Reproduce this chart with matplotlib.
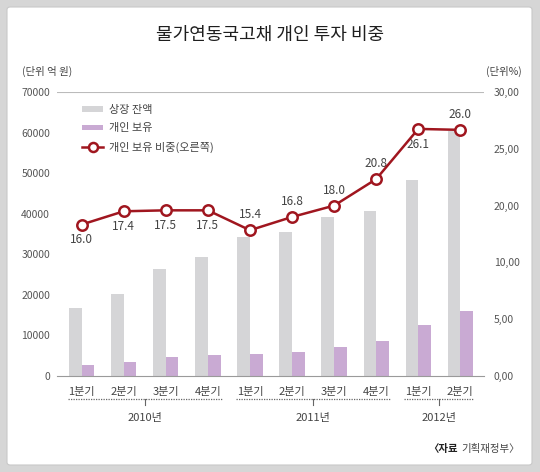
import numpy as np
import matplotlib
matplotlib.use("Agg")
import matplotlib.pyplot as plt
from matplotlib.patches import FancyBboxPatch
from matplotlib.lines import Line2D
from matplotlib.patches import Patch
import matplotlib.transforms as mtransforms

plt.rcParams['font.family'] = ['Noto Sans CJK KR', 'DejaVu Sans']

# 데이터
quarters = ['1분기', '2분기', '3분기', '4분기', '1분기', '2분기', '3분기', '4분기', '1분기', '2분기']
years = ['2010년', '2011년', '2012년']
year_groups = [[0, 1, 2, 3], [4, 5, 6, 7], [8, 9]]
listed = [16800, 20200, 26300, 29300, 34300, 35500, 39100, 40700, 48200, 60300]
individual = [2800, 3500, 4700, 5200, 5400, 6000, 7100, 8600, 12600, 16000]
share = [16.0, 17.4, 17.5, 17.5, 15.4, 16.8, 18.0, 20.8, 26.1, 26.0]
share_label_pos = ['below', 'below', 'below', 'below', 'above', 'above', 'above', 'above', 'below', 'above']
left_ticks = [0, 10000, 20000, 30000, 40000, 50000, 60000, 70000]
right_tick_labels = ['0,00', '5,00', '10,00', '20,00', '25,00', '30,00']

W, H = 540, 472
fig = plt.figure(figsize=(W / 100, H / 100), dpi=100, facecolor='#d6d6d6')

# 흰 배경 패널
panel = FancyBboxPatch((7 / W, 7 / H), 525 / W, 458 / H,
                       boxstyle="round,pad=0,rounding_size=0.006",
                       transform=fig.transFigure, facecolor='white',
                       edgecolor='#c8c8c8', linewidth=0.8, zorder=-10)
fig.patches.append(panel)

ax = fig.add_axes([57 / W, 96 / H, 427 / W, 284 / H])
ax.set_facecolor('none')

x = np.arange(len(quarters))
bw = 0.30
gray = '#d5d5d7'
purple = '#c9aad3'
red = '#a0161f'
txt = '#444444'

ax.bar(x - bw / 2, listed, width=bw, color=gray, zorder=2)
ax.bar(x + bw / 2, individual, width=bw, color=purple, zorder=2)

ax.set_xlim(-0.587, 9.563)
ax.set_ylim(0, 70000)
ax.set_yticks(left_ticks)
ax.set_yticklabels([str(v) for v in left_ticks])
ax.tick_params(axis='y', length=0, pad=5, labelsize=7.5, labelcolor='#555555')
ax.set_xticks([])
for s in ['top', 'right', 'left']:
    ax.spines[s].set_visible(False)
ax.spines['bottom'].set_color('#9a9a9a')
ax.spines['bottom'].set_linewidth(0.8)
ax.axhline(70000, color='#bbbbbb', linewidth=0.8, zorder=1)

ax2 = ax.twinx()
ax2.set_ylim(0, 30)
ax2.set_yticks(np.linspace(0, 30, len(right_tick_labels)))
ax2.set_yticklabels(right_tick_labels)
ax2.tick_params(axis='y', length=0, pad=7, labelsize=7.5, labelcolor='#555555')
for s in ax2.spines.values():
    s.set_visible(False)

ax2.plot(x, share, color=red, linewidth=1.8, marker='o', markersize=7.5,
         markerfacecolor='white', markeredgecolor=red, markeredgewidth=1.8, zorder=5)
for xi, v, pos in zip(x, share, share_label_pos):
    dy = -11 if pos == 'below' else 11
    ax2.annotate(f"{v:.1f}", (xi, v), xytext=(0, dy), textcoords='offset points',
                 ha='center', va='center', fontsize=8.5, color=txt)

# x축 라벨
for xi, q in zip(x, quarters):
    ax.annotate(q, (xi, 0), xycoords=('data', 'axes fraction'), xytext=(0, -11.5),
                textcoords='offset points', ha='center', va='center', fontsize=8, color=txt)

for yl, grp in zip(years, year_groups):
    x0, x1 = grp[0] - 0.33, grp[-1] + 0.33
    xm = (grp[0] + grp[-1]) / 2
    tr = mtransforms.blended_transform_factory(ax.transData, ax.transAxes)
    yd = -23 / 284
    ax.add_line(Line2D([x0, x1], [yd, yd], transform=tr, color='#666666',
                       linewidth=0.9, linestyle=(0, (1, 1)), clip_on=False))
    ax.add_line(Line2D([xm, xm], [yd, yd - 6 / 284], transform=tr, color='#666666',
                       linewidth=0.8, clip_on=False))
    ax.annotate(yl, (xm, 0), xycoords=('data', 'axes fraction'), xytext=(0, -30),
                textcoords='offset points', ha='center', va='center', fontsize=8, color=txt)

# 범례
handles = [Patch(facecolor=gray, edgecolor='none'),
           Patch(facecolor=purple, edgecolor='none'),
           Line2D([], [], color=red, linewidth=1.8, marker='o', markersize=6.5,
                  markerfacecolor='white', markeredgecolor=red, markeredgewidth=1.8)]
labels = ['상장 잔액', '개인 보유', '개인 보유 비중(오른쪽)']
leg = fig.legend(handles, labels, loc='upper left', bbox_to_anchor=(72 / W, 1 - 95 / H),
                 frameon=False, fontsize=8, handlelength=1.9, handleheight=0.35,
                 labelspacing=0.75, handletextpad=0.5, labelcolor=txt)

# 제목 및 단위
fig.text(270 / W, 1 - 35 / H, '물가연동국고채 개인 투자 비중', ha='center', va='center',
         fontsize=13, color='#1e1e1e', fontweight='medium')
fig.text(22 / W, 1 - 71 / H, '(단위 억 원)', ha='left', va='center', fontsize=7.5, color=txt)
fig.text(522 / W, 1 - 71 / H, '(단위%)', ha='right', va='center', fontsize=7.5, color=txt)

# 출처
src = fig.text(520 / W, 1 - 449 / H, '기획재정부〉', ha='right', va='center', fontsize=7.5, color=txt)
fig.canvas.draw()
bb = src.get_window_extent(fig.canvas.get_renderer())
fig.text((bb.x0 - 4) / W, 1 - 449 / H, '〈자료', ha='right', va='center', fontsize=7.5,
         color='#222222', fontweight='bold')

fig.savefig('out.png', dpi=100, facecolor=fig.get_facecolor())
